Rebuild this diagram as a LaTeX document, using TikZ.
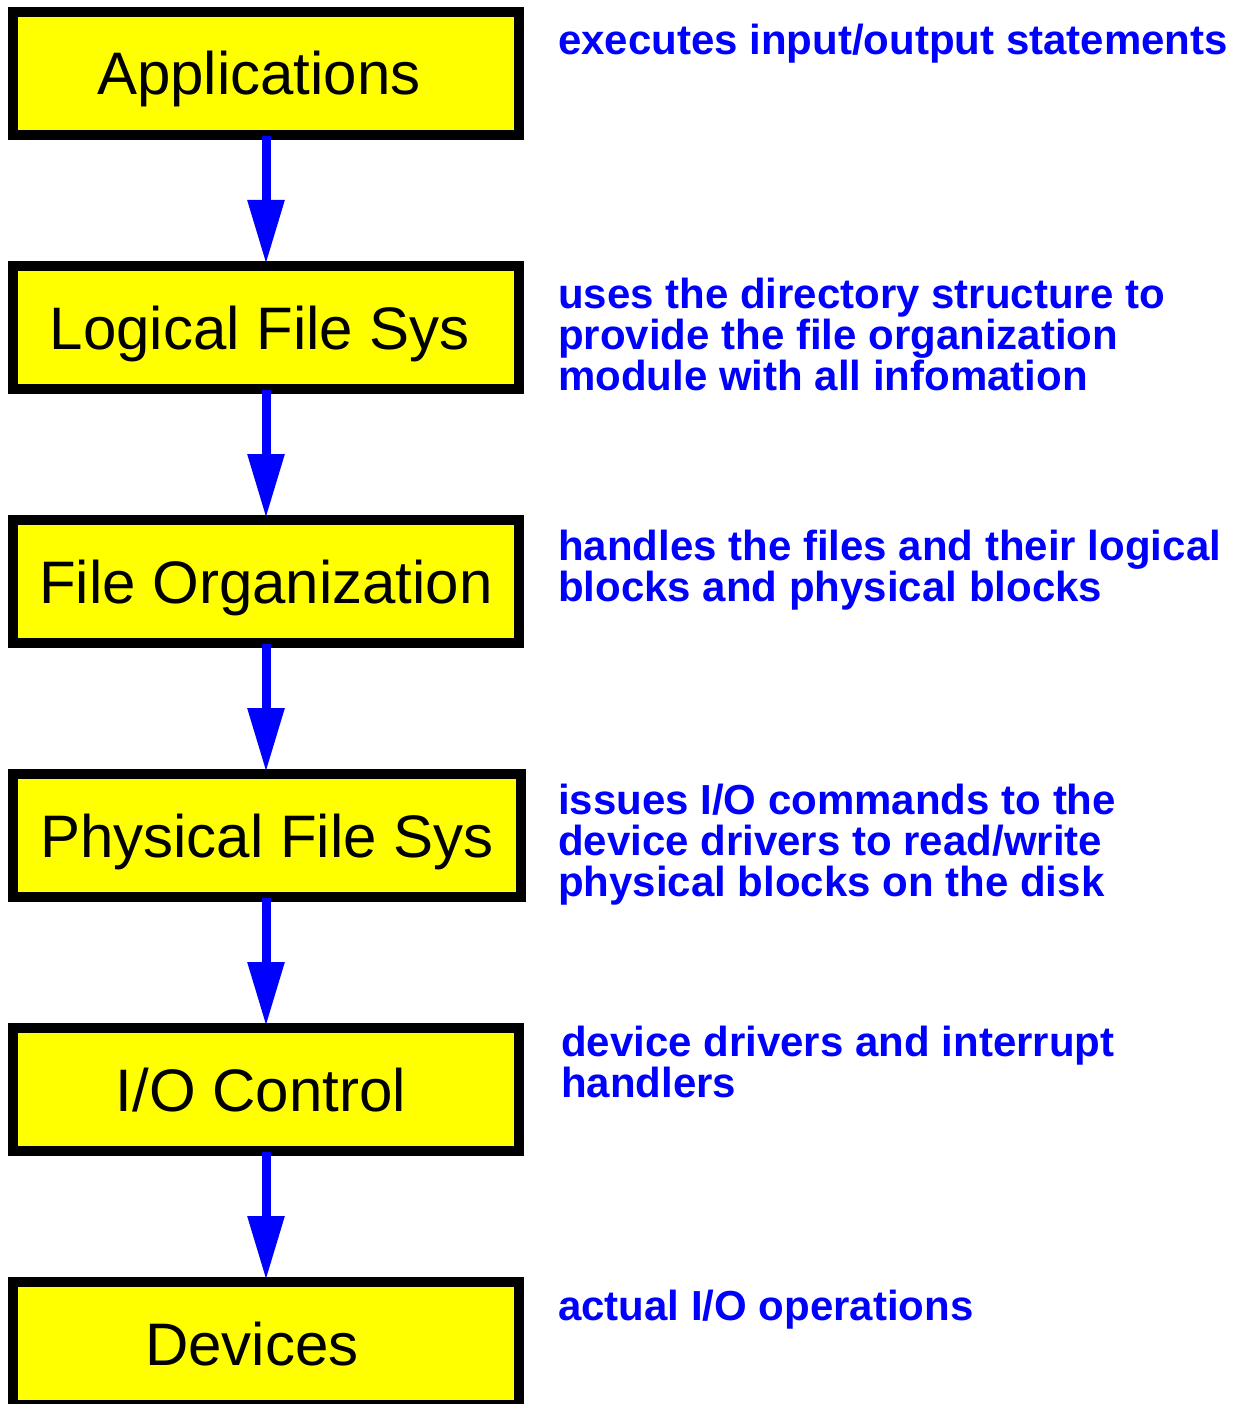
\documentclass[tikz,border=0pt]{standalone}
\usepackage{fontspec}
\setmainfont{Liberation Sans}
\usetikzlibrary{arrows.meta}
\definecolor{boxyellow}{RGB}{255,255,0}
\definecolor{txtblue}{RGB}{0,0,255}
\begin{document}
\begin{tikzpicture}[x=1pt,y=-1pt,
  layer/.style={draw=black, fill=boxyellow, line width=10pt, minimum width=506pt,
    minimum height=123pt, inner sep=0pt, font=\fontsize{60}{60}\selectfont,
    text height=43pt, text depth=0pt},
  desc/.style={anchor=north west, align=left, inner sep=0pt, text=txtblue,
    font=\bfseries\fontsize{42}{41}\selectfont},
  flow/.style={draw=txtblue, line width=9pt, -{Triangle[width=35pt,length=64pt]},
    shorten <=-4pt, shorten >=-3pt}]
\fill[white] (0,0) rectangle (1232,1404);
\useasboundingbox (0,0) rectangle (1232,1404);

\node[layer] (app) at (266,73.5) {Applications\kern14pt};
\node[layer] (lfs) at (266,327.5) {Logical File Sys\kern12pt};
\node[layer] (forg) at (266,581.5) {File Organization};
\node[layer, minimum width=508pt] (pfs) at (267,835.5) {Physical File Sys};
\node[layer] (ioc) at (266,1089.5) {I/O Control\kern10pt};
\node[layer] (dev) at (266,1343.5) {Devices\kern28pt};

\draw[flow] (app.south) -- (lfs.north);
\draw[flow] (lfs.south) -- (forg.north);
\draw[flow] (forg.south) -- (pfs.north -| forg.south);
\draw[flow] (pfs.south -| forg.south) -- (ioc.north);
\draw[flow] (ioc.south) -- (dev.north);

\node[desc] (d1) at (558,22) {\rule{0pt}{32pt}executes input/output statements};
\node[desc] (d2) at (558,276) {\rule{0pt}{32pt}uses the directory structure to\\provide the file organization\\module with all infomation};
\node[desc] (d3) at (558,528) {\rule{0pt}{32pt}handles the files and their logical\\blocks and physical blocks};
\node[desc] (d4) at (558,782) {\rule{0pt}{32pt}issues I/O commands to the\\device drivers to read/write\\physical blocks on the disk};
\node[desc] (d5) at (561,1024) {\rule{0pt}{32pt}device drivers and interrupt\\handlers};
\node[desc] (d6) at (558,1288) {\rule{0pt}{32pt}actual I/O operations};
\end{tikzpicture}
\end{document}
